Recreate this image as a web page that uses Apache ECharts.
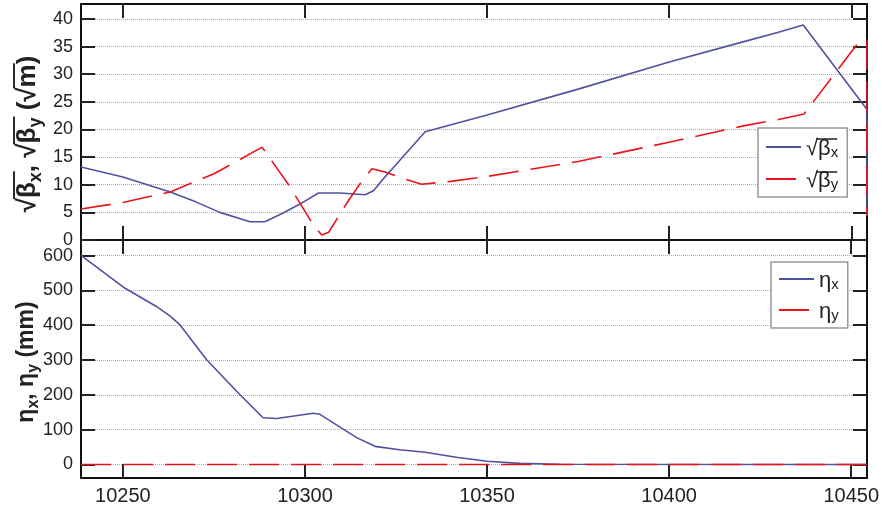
<!DOCTYPE html>
<html>
<head>
<meta charset="utf-8">
<script src="https://cdn.jsdelivr.net/npm/echarts@6/dist/echarts.min.js"></script>
<style>
  html, body { margin: 0; padding: 0; background: #fff; }
  #main { width: 882px; height: 506px; }
</style>
</head>
<body>
<div id="main"></div>
<script>
// position along the line (m)
const sMin = 10238.5;
const sMax = 10454.3;
const sTicks = [10250, 10300, 10350, 10400, 10450];

// sqrt(beta) panel
const betaMin = 0;
const betaMax = 42.7;
const betaTicks = [0, 5, 10, 15, 20, 25, 30, 35, 40];
const bxS = [10238.5, 10250, 10263, 10270, 10276.6, 10284.9, 10289, 10294, 10298.6, 10303.7, 10309.6, 10316.5, 10318.8, 10321.4, 10333, 10350, 10375, 10400, 10420, 10430, 10436.8, 10454.3, 10454.3];
const bxV = [13.2, 11.4, 8.7, 6.9, 5.0, 3.3, 3.3, 4.9, 6.5, 8.5, 8.5, 8.2, 8.9, 11.0, 19.6, 22.6, 27.3, 32.2, 35.8, 37.6, 38.9, 23.6, 4.3];
const byS = [10238.5, 10250, 10263, 10275, 10282, 10288.2, 10295.4, 10302.3, 10304.6, 10306.5, 10311.9, 10316, 10318.4, 10322, 10327.5, 10332, 10340, 10350, 10375, 10400, 10420, 10430, 10437, 10448, 10452.5, 10454.3, 10454.3];
const byV = [5.6, 6.8, 8.7, 12.0, 14.5, 16.8, 10.1, 2.7, 0.9, 1.4, 7.1, 11.0, 12.9, 12.3, 11.0, 10.1, 10.6, 11.5, 14.2, 17.7, 20.6, 21.8, 22.8, 32.3, 36.2, 36.2, 4.5];

// dispersion panel (mm)
const etaMin = -39;
const etaMax = 645;
const etaTicks = [0, 100, 200, 300, 400, 500, 600];
const exS = [10238.5, 10250.5, 10259.2, 10262.9, 10265.7, 10273, 10282.1, 10288.5, 10292.2, 10302.3, 10304.1, 10314.2, 10319.2, 10326, 10333, 10342, 10350, 10359, 10370, 10454.3];
const exV = [601, 507, 454, 427, 401, 301, 201, 134, 132, 147, 144, 77, 52, 42, 35, 20, 9, 3, 0.5, 0];
const eyS = [10238.5, 10454.3];
const eyV = [0, 0];

const BLUE = '#5151a2';
const RED = '#e8141c';
const INK = '#222';
const FONT = '"Liberation Sans", Arial, sans-serif';

const zip = (a, b) => a.map((v, i) => [v, b[i]]);

const chart = echarts.init(document.getElementById('main'));
const ctx = document.createElement('canvas').getContext('2d');
function textW(t, font) {
  ctx.font = font;
  return ctx.measureText(t).width;
}

const frame = () => ({ show: true, onZero: false, lineStyle: { color: '#111', width: 2 } });
const majorTick = (vals) => ({ show: true, inside: true, length: 14, customValues: vals, lineStyle: { color: INK, width: 2 } });

function xAx(grid, pos, labels) {
  return {
    type: 'value', gridIndex: grid, position: pos, min: sMin, max: sMax,
    axisLine: frame(),
    splitLine: { show: false },
    axisLabel: labels
      ? { customValues: sTicks, formatter: (v) => String(v), fontSize: 20, color: INK }
      : { show: false },
    axisTick: majorTick(sTicks)
  };
}
function yAx(grid, pos, min, max, majors) {
  const left = pos === 'left';
  return {
    type: 'value', gridIndex: grid, position: pos, min, max,
    axisLine: frame(),
    axisLabel: left
      ? { customValues: majors, formatter: (v) => String(v), fontSize: 18, color: INK }
      : { show: false },
    splitLine: left ? { show: true, lineStyle: { type: 'dotted', color: '#aaa' } } : { show: false },
    axisTick: majorTick(majors)
  };
}

// axis titles: text runs with subscripts and root overlines
function titleGroup(segs, cx, cy, big, sub) {
  const fb = 'bold ' + big + 'px ' + FONT;
  const fs = 'bold ' + sub + 'px ' + FONT;
  let total = 0;
  const items = segs.map(([t, k, o]) => {
    const font = k === 's' ? fs : fb;
    const w = textW(t, font);
    const it = { t, font, w, x: total, k, o };
    total += w;
    return it;
  });
  const subDy = Math.round(big * 0.3);
  const barY = -Math.round(big * 0.52);
  const children = items.map((it) => ({
    type: 'text', x: it.x - total / 2, y: it.k === 's' ? subDy : 0,
    style: { text: it.t, font: it.font, fill: '#222', align: 'left', verticalAlign: 'middle' }
  }));
  let run = null;
  items.concat([{ o: false }]).forEach((it) => {
    if (it.o) {
      if (!run) run = { x1: it.x - 1, x2: it.x + it.w };
      else run.x2 = it.x + it.w;
    } else if (run) {
      children.push({
        type: 'line',
        shape: { x1: run.x1 - total / 2, y1: barY, x2: run.x2 - total / 2 + 1, y2: barY },
        style: { stroke: '#222', lineWidth: 1.9 }
      });
      run = null;
    }
  });
  return { type: 'group', x: cx, y: cy, rotation: Math.PI / 2, z: 100, children };
}

const topTitle = titleGroup([
  ['√', 'b', false], ['β', 'b', true], ['x', 's', true], [', ', 'b', false],
  ['√', 'b', false], ['β', 'b', true], ['y', 's', true], [' (', 'b', false],
  ['√', 'b', false], ['m', 'b', true], [')', 'b', false]
], 28, 134, 26, 18);
const botTitle = titleGroup([
  ['η', 'b', false], ['x', 's', false], [', ', 'b', false],
  ['η', 'b', false], ['y', 's', false], [' (mm)', 'b', false]
], 27, 362, 23, 16);

// legends
const LEG_BIG = 22, LEG_SUB = 15;
const legRich = {
  a: { fontSize: LEG_BIG, fontFamily: FONT, color: '#222', lineHeight: 26, verticalAlign: 'bottom' },
  s: { fontSize: LEG_SUB, fontFamily: FONT, color: '#222', lineHeight: 10, verticalAlign: 'bottom' }
};
const legNames = { bx: '{a|√β}{s|x}', by: '{a|√β}{s|y}', ex: '{a|η}{s|x}', ey: '{a|η}{s|y}' };
function legend(left, top, pad, gap, names) {
  return {
    show: true, orient: 'vertical', left, top, padding: pad, itemGap: gap,
    itemWidth: 35, itemHeight: 14, data: names,
    borderColor: '#999', borderWidth: 1.5, backgroundColor: '#fff', borderRadius: 0,
    itemStyle: { opacity: 0 },
    formatter: (n) => legNames[n],
    textStyle: { rich: legRich }
  };
}
function legendOverline(left, padL, y) {
  const x0 = left + padL + 35 + 5 + textW('√', LEG_BIG + 'px ' + FONT) - 1;
  const x1 = x0 + 1 + textW('β', LEG_BIG + 'px ' + FONT) + textW('x', LEG_SUB + 'px ' + FONT);
  return { type: 'line', z: 100, shape: { x1: x0, y1: y, x2: x1, y2: y }, style: { stroke: '#222', lineWidth: 1.5 } };
}

const lineSeries = (name, xi, yi, data, color, dashed) => ({
  name, type: 'line', xAxisIndex: xi, yAxisIndex: yi, data, symbol: 'none',
  lineStyle: { color, width: 1.6, type: dashed ? [30, 12] : 'solid' },
  itemStyle: { color }
});

chart.setOption({
  animation: false,
  grid: [
    { left: 81, top: 4, width: 786, height: 236 },
    { left: 81, top: 240, width: 786, height: 239 }
  ],
  xAxis: [xAx(0, 'bottom', false), xAx(0, 'top', false), xAx(1, 'bottom', true), xAx(1, 'top', false)],
  yAxis: [
    yAx(0, 'left', betaMin, betaMax, betaTicks), yAx(0, 'right', betaMin, betaMax, betaTicks),
    yAx(1, 'left', etaMin, etaMax, etaTicks), yAx(1, 'right', etaMin, etaMax, etaTicks)
  ],
  legend: [
    legend(758, 128, [10, 9, 5, 7], 10, ['bx', 'by']),
    legend(771, 262, [8, 9, 5, 7], 9, ['ex', 'ey'])
  ],
  graphic: [topTitle, botTitle, legendOverline(758, 7, 139), legendOverline(758, 7, 172)],
  series: [
    lineSeries('bx', 0, 0, zip(bxS, bxV), BLUE, false),
    lineSeries('by', 0, 0, zip(byS, byV), RED, true),
    lineSeries('ex', 2, 2, zip(exS, exV), BLUE, false),
    lineSeries('ey', 2, 2, zip(eyS, eyV), RED, true)
  ]
});
</script>
</body>
</html>
